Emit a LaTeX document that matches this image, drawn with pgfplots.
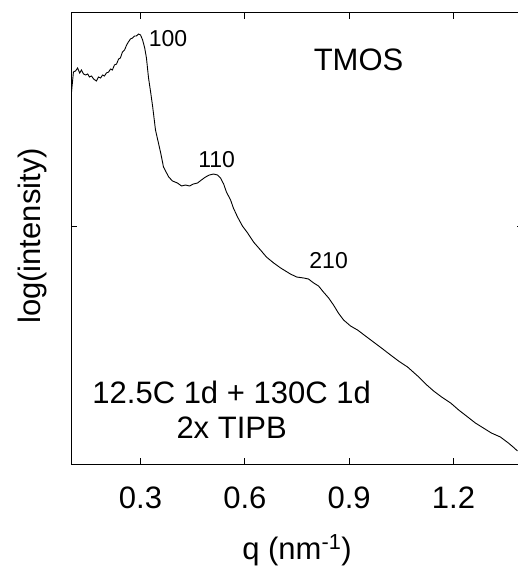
\documentclass[border=0pt]{standalone}
\usepackage{fontspec}
\setmainfont{Liberation Sans}
\usepackage{pgfplots}
\pgfplotsset{compat=1.18}
\begin{document}
\begin{tikzpicture}
\begin{axis}[
  at={(0,0)}, anchor=south west,
  scale only axis, width=452pt, height=451pt,
  xmin=0.1, xmax=1.4, ymin=0, ymax=451,
  xtick={0.3,0.6,0.9,1.2}, xticklabels={0.3,0.6,0.9,1.2},
  ytick={237}, yticklabels={},
  tick align=inside, major tick length=6pt,
  xtick pos=both, ytick pos=both,
  axis line style={line width=1pt, black},
  every tick/.style={line width=1pt, black},
  /pgf/number format/assume math mode=true,
  xticklabel style={font=\fontsize{31}{35}\selectfont, anchor=base, yshift=-44pt},
  xlabel={q (nm\textsuperscript{-1})},
  xlabel style={font=\fontsize{31}{35}\selectfont, at={(axis description cs:0.5,0)}, anchor=base, yshift=-95pt},
  clip=false,
]
\addplot[black, line width=0.9pt] coordinates {
(0.1015,372) (0.107,392) (0.113,393) (0.119,396) (0.125,391) (0.130,394) (0.136,390)
(0.142,389) (0.148,390) (0.153,387) (0.159,388) (0.165,385) (0.173,383) (0.179,387)
(0.185,386) (0.191,389) (0.196,388) (0.202,391) (0.208,392) (0.214,395) (0.219,394)
(0.225,399) (0.231,400) (0.237,405) (0.242,406) (0.248,412) (0.254,414) (0.260,419)
(0.265,422) (0.271,425) (0.277,426) (0.283,428) (0.288,428) (0.294,430) (0.300,429)
(0.306,424) (0.312,416) (0.317,406) (0.323,386) (0.329,372) (0.335,357) (0.343,334)
(0.358,311) (0.366,297) (0.381,287) (0.392,283) (0.406,281) (0.418,278) (0.429,279)
(0.441,278) (0.452,280) (0.464,281) (0.475,284) (0.487,287) (0.498,289) (0.510,290)
(0.521,289) (0.530,286) (0.539,280) (0.547,272) (0.559,264) (0.567,256) (0.579,247)
(0.593,238) (0.608,231) (0.625,222) (0.645,214) (0.662,207) (0.683,201) (0.703,196)
(0.731,190) (0.749,187) (0.769,186) (0.783,185) (0.798,181) (0.812,178) (0.826,172)
(0.841,166) (0.855,159) (0.869,151) (0.884,144) (0.904,138) (0.924,134) (0.947,128)
(0.970,122) (0.993,116) (1.019,109) (1.042,103) (1.068,97) (1.097,88) (1.120,80)
(1.143,73) (1.166,67) (1.192,61) (1.215,54) (1.241,47) (1.263,41) (1.286,36)
(1.309,31) (1.335,27) (1.358,21) (1.375,16) (1.384,13)
};
\node[anchor=base, font=\fontsize{23}{27}\selectfont] at (axis cs:0.379,417) {100};
\node[anchor=base, font=\fontsize{23}{27}\selectfont] at (axis cs:0.519,296) {110};
\node[anchor=base, font=\fontsize{23}{27}\selectfont] at (axis cs:0.841,195) {210};
\node[anchor=base, font=\fontsize{31}{35}\selectfont] at (axis cs:0.927,393) {TMOS};
\node[anchor=base, font=\fontsize{31}{35}\selectfont] at (axis cs:0.562,61) {12.5C 1d + 130C 1d};
\node[anchor=base, font=\fontsize{31}{35}\selectfont] at (axis cs:0.562,26) {2x TIPB};
\end{axis}
\node[rotate=90, anchor=center, font=\fontsize{31}{35}\selectfont] at (-39pt,228pt) {log(intensity)};
\pgfresetboundingbox
\useasboundingbox (-71pt,-106pt) rectangle (446pt,464pt);
\end{tikzpicture}
\end{document}
